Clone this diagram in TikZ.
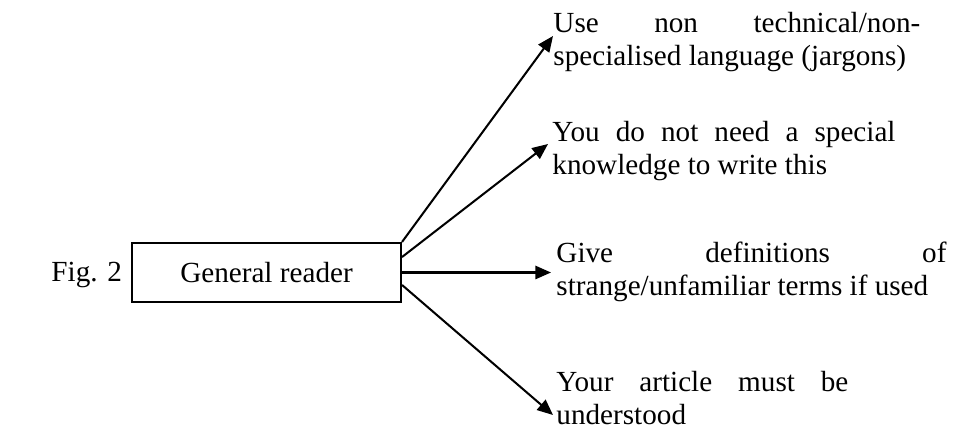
\documentclass[tikz,border=0pt]{standalone}
\usepackage{fontspec}
\setmainfont{Liberation Serif}
\usetikzlibrary{arrows.meta}
\hbadness=10000
% two-line justified note: first line stretched to the given width
\newcommand\twolines[3]{\vtop{\baselineskip=13.8pt\hbox to #1{#2}\hbox{#3}}}
\begin{document}
\begin{tikzpicture}[x=0.42pt, y=-0.42pt,
  every node/.style={font=\fontsize{12.25}{13.8}\selectfont},
  link/.style={line width=0.85pt, -{Triangle[length=6.6pt,width=5.6pt]}},
  readerbox/.style={draw, line width=0.85pt, minimum width=113pt, minimum height=24.8pt, inner sep=0pt},
  note/.style={anchor=base west, inner sep=0pt}]
\useasboundingbox (0,0) rectangle (966,430);

\node[readerbox] (reader) at (266.5,272.5) {General reader};
\node[note] (fig) at (51,282) {Fig. 2};

\node[note] (n1) at (553,33) {\twolines{154.1pt}{Use non technical/non-}{specialised language (jargons)}};
\node[note] (n2) at (552,142) {\twolines{144.1pt}{You do not need a special}{knowledge to write this}};
\node[note] (n3) at (556,263) {\twolines{163.8pt}{Give definitions of}{strange/unfamiliar terms if used}};
\node[note] (n4) at (556,392) {\twolines{122.6pt}{Your article must be}{understood}};

\coordinate (t1) at (553,36);
\coordinate (t2) at (548,144);
\coordinate (t3) at (551,272.5);
\coordinate (t4) at (553,415);

\draw[link] (reader.north east) -- (t1);
\draw[link] ([yshift=6.5pt]reader.east) -- (t2);
\draw[link] (reader.east) -- (t3);
\draw[link] ([yshift=-5.25pt]reader.east) -- (t4);
\end{tikzpicture}
\end{document}
